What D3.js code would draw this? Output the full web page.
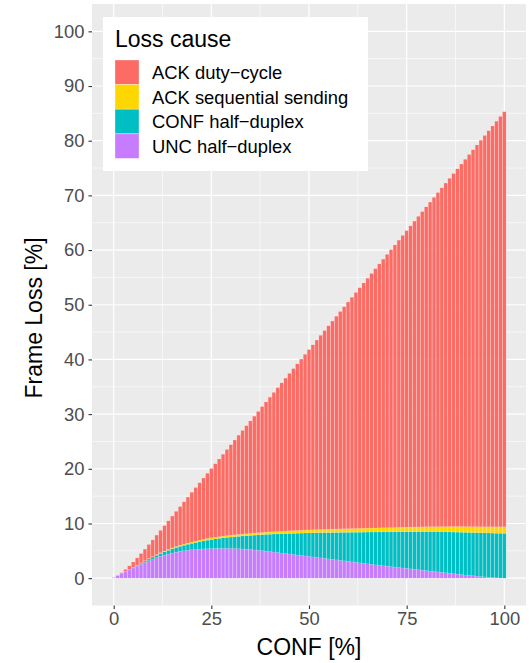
<!DOCTYPE html>
<html>
<head>
<meta charset="utf-8">
<script src="https://cdn.jsdelivr.net/npm/d3@7"></script>
<style>
  body { margin: 0; background: #fff; }
  text { font-family: "Liberation Sans", Arial, Helvetica, sans-serif; }
</style>
</head>
<body>
<script>
// CONF share in %, one bar per step
var conf = d3.range(0, 101);

// loss causes, bottom to top of the stack
var causes = ["UNC half−duplex", "CONF half−duplex", "ACK sequential sending", "ACK duty−cycle"];
var legendOrder = ["ACK duty−cycle", "ACK sequential sending", "CONF half−duplex", "UNC half−duplex"];
var colours = {"ACK duty−cycle": "#FC6C64", "ACK sequential sending": "#FFD700",
               "CONF half−duplex": "#00BFC4", "UNC half−duplex": "#C77CFF"};

var uncHalfDuplex = [
  0.1, 0.45, 0.8, 1.15, 1.5, 1.85, 2.2, 2.55, 2.9, 3.2,
  3.5, 3.75, 4.0, 4.2, 4.4, 4.6, 4.75, 4.9, 5.0, 5.1,
  5.2, 5.25, 5.3, 5.35, 5.38, 5.4, 5.42, 5.43, 5.44, 5.44,
  5.43, 5.41, 5.38, 5.34, 5.29, 5.23, 5.16, 5.09, 5.02, 4.94,
  4.86, 4.78, 4.69, 4.6, 4.51, 4.42, 4.33, 4.24, 4.15, 4.06,
  3.97, 3.88, 3.79, 3.7, 3.61, 3.52, 3.43, 3.34, 3.25, 3.16,
  3.07, 2.98, 2.89, 2.8, 2.71, 2.62, 2.53, 2.44, 2.35, 2.26,
  2.18, 2.1, 2.02, 1.94, 1.86, 1.78, 1.7, 1.62, 1.54, 1.46,
  1.38, 1.3, 1.22, 1.14, 1.06, 0.98, 0.9, 0.82, 0.74, 0.66,
  0.58, 0.5, 0.43, 0.36, 0.29, 0.23, 0.17, 0.12, 0.07, 0.03,
  0.0];

var confHalfDuplex = [
  0, 0, 0.02, 0.05, 0.08, 0.12, 0.16, 0.2, 0.23, 0.3,
  0.36, 0.45, 0.52, 0.62, 0.7, 0.76, 0.85, 0.92, 1.02, 1.1,
  1.17, 1.28, 1.38, 1.47, 1.57, 1.67, 1.76, 1.85, 1.93, 2.01,
  2.09, 2.18, 2.27, 2.37, 2.48, 2.59, 2.71, 2.83, 2.94, 3.06,
  3.18, 3.29, 3.41, 3.53, 3.65, 3.76, 3.87, 3.98, 4.09, 4.2,
  4.31, 4.42, 4.52, 4.62, 4.72, 4.82, 4.92, 5.02, 5.12, 5.22,
  5.32, 5.42, 5.51, 5.61, 5.71, 5.81, 5.91, 6.0, 6.1, 6.19,
  6.28, 6.36, 6.45, 6.53, 6.62, 6.7, 6.79, 6.87, 6.96, 7.04,
  7.12, 7.2, 7.27, 7.34, 7.41, 7.48, 7.55, 7.61, 7.68, 7.74,
  7.8, 7.86, 7.91, 7.96, 8.01, 8.05, 8.09, 8.12, 8.15, 8.18,
  8.2];

var ackSequential = [
  0, 0, 0.01, 0.02, 0.03, 0.04, 0.05, 0.06, 0.07, 0.08,
  0.1, 0.11, 0.12, 0.14, 0.15, 0.17, 0.18, 0.2, 0.21, 0.23,
  0.24, 0.25, 0.27, 0.28, 0.29, 0.3, 0.31, 0.31, 0.32, 0.32,
  0.33, 0.33, 0.34, 0.35, 0.35, 0.36, 0.37, 0.38, 0.39, 0.41,
  0.42, 0.43, 0.44, 0.45, 0.46, 0.47, 0.48, 0.5, 0.51, 0.52,
  0.54, 0.55, 0.56, 0.58, 0.59, 0.6, 0.61, 0.62, 0.63, 0.64,
  0.65, 0.66, 0.67, 0.68, 0.7, 0.71, 0.72, 0.73, 0.74, 0.76,
  0.77, 0.78, 0.79, 0.8, 0.82, 0.83, 0.84, 0.85, 0.86, 0.88,
  0.89, 0.9, 0.92, 0.93, 0.95, 0.96, 0.98, 0.99, 1.01, 1.02,
  1.04, 1.05, 1.07, 1.08, 1.1, 1.11, 1.13, 1.14, 1.16, 1.17,
  1.19];

var ackDutyCycle = [
  0, 0.05, 0.17, 0.38, 0.64, 0.94, 1.29, 1.69, 2.1, 2.57,
  3.04, 3.56, 4.1, 4.65, 5.23, 5.82, 6.44, 7.07, 7.73, 8.4,
  9.09, 9.79, 10.49, 11.21, 11.94, 12.68, 13.43, 14.2, 14.97, 15.76,
  16.55, 17.35, 18.15, 18.95, 19.76, 20.57, 21.38, 22.19, 23.01, 23.82,
  24.64, 25.47, 26.3, 27.13, 27.96, 28.8, 29.64, 30.47, 31.31, 32.15,
  32.98, 33.82, 34.67, 35.51, 36.36, 37.21, 38.06, 38.91, 39.76, 40.61,
  41.46, 42.31, 43.17, 44.02, 44.86, 45.71, 46.56, 47.42, 48.27, 49.12,
  49.97, 50.83, 51.68, 52.54, 53.38, 54.24, 55.09, 55.95, 56.8, 57.65,
  58.51, 59.37, 60.23, 61.1, 61.96, 62.83, 63.69, 64.57, 65.43, 66.31,
  67.18, 68.06, 68.93, 69.81, 70.68, 71.56, 72.43, 73.31, 74.18, 75.05,
  75.91];

var xTicks = [0, 25, 50, 75, 100];
var yTicks = [0, 10, 20, 30, 40, 50, 60, 70, 80, 90, 100];

var width = 532, height = 663;
var panel = {left: 92, right: 526, top: 4, bottom: 605.5};

var rows = conf.map(function(c, i) {
    var r = {conf: c};
    r["UNC half−duplex"] = uncHalfDuplex[i];
    r["CONF half−duplex"] = confHalfDuplex[i];
    r["ACK sequential sending"] = ackSequential[i];
    r["ACK duty−cycle"] = ackDutyCycle[i];
    return r;
});

var x = d3.scaleLinear().domain([-5.55, 105.55]).range([panel.left, panel.right]);
var y = d3.scaleLinear().domain([-5, 105]).range([panel.bottom, panel.top]);

var svg = d3.select("body").append("svg")
    .attr("width", width)
    .attr("height", height);

svg.append("rect")
    .attr("x", panel.left).attr("y", panel.top)
    .attr("width", panel.right - panel.left)
    .attr("height", panel.bottom - panel.top)
    .attr("fill", "#EBEBEB");

// minor grid
var grid = svg.append("g");
[12.5, 37.5, 62.5, 87.5].forEach(function(v) {
    grid.append("line").attr("x1", x(v)).attr("x2", x(v))
        .attr("y1", panel.top).attr("y2", panel.bottom)
        .attr("stroke", "#fff").attr("stroke-width", 0.6);
});
d3.range(5, 101, 10).forEach(function(v) {
    grid.append("line").attr("y1", y(v)).attr("y2", y(v))
        .attr("x1", panel.left).attr("x2", panel.right)
        .attr("stroke", "#fff").attr("stroke-width", 0.6);
});
// major grid
xTicks.forEach(function(v) {
    grid.append("line").attr("x1", x(v)).attr("x2", x(v))
        .attr("y1", panel.top).attr("y2", panel.bottom)
        .attr("stroke", "#fff").attr("stroke-width", 1.2);
});
yTicks.forEach(function(v) {
    grid.append("line").attr("y1", y(v)).attr("y2", y(v))
        .attr("x1", panel.left).attr("x2", panel.right)
        .attr("stroke", "#fff").attr("stroke-width", 1.2);
});

// stacked bars
var stack = d3.stack().keys(causes);
var layers = stack(rows);

svg.append("g").selectAll("g")
    .data(layers)
    .enter().append("g")
    .attr("fill", function(d) { return colours[d.key]; })
    .selectAll("rect")
    .data(function(d) { return d; })
    .enter().append("rect")
    .attr("x", function(d) { return x(d.data.conf - 0.45); })
    .attr("width", x(0.45) - x(-0.45))
    .attr("y", function(d) { return y(d[1]); })
    .attr("height", function(d) { return Math.max(0, y(d[0]) - y(d[1])); })
    .attr("stroke", "#fff")
    .attr("stroke-opacity", 0.25)
    .attr("stroke-width", 0.4);

// axes
var xAxis = d3.axisBottom(x).tickValues(xTicks).tickSize(3.5).tickPadding(3);
var gx = svg.append("g")
    .attr("transform", "translate(0," + panel.bottom + ")")
    .call(xAxis);
gx.select(".domain").remove();
gx.selectAll("line").attr("stroke", "#333").attr("stroke-width", 1.1);
gx.selectAll("text").attr("fill", "#4D4D4D").style("font-size", "18.4px")
    .style("font-family", "Liberation Sans, Arial, sans-serif");

var yAxis = d3.axisLeft(y).tickValues(yTicks).tickSize(3.5).tickPadding(4);
var gy = svg.append("g")
    .attr("transform", "translate(" + panel.left + ",0)")
    .call(yAxis);
gy.select(".domain").remove();
gy.selectAll("line").attr("stroke", "#333").attr("stroke-width", 1.1);
gy.selectAll("text").attr("fill", "#4D4D4D").style("font-size", "18.4px")
    .style("font-family", "Liberation Sans, Arial, sans-serif");

svg.append("text")
    .attr("x", (panel.left + panel.right) / 2)
    .attr("y", 655)
    .attr("text-anchor", "middle")
    .style("font-size", "23px")
    .text("CONF [%]");

svg.append("text")
    .attr("transform", "translate(42,318) rotate(-90)")
    .attr("text-anchor", "middle")
    .style("font-size", "23px")
    .text("Frame Loss [%]");

// legend
var legend = svg.append("g").attr("transform", "translate(103,17)");
legend.append("rect")
    .attr("width", 265).attr("height", 154)
    .attr("fill", "#fff");
legend.append("text")
    .attr("x", 12).attr("y", 30)
    .style("font-size", "23px")
    .text("Loss cause");

var item = legend.selectAll(".item")
    .data(legendOrder)
    .enter().append("g")
    .attr("class", "item")
    .attr("transform", function(d, i) { return "translate(12," + (43 + i * 24.6) + ")"; });

item.append("rect")
    .attr("width", 24).attr("height", 24.6)
    .attr("fill", function(d) { return colours[d]; })
    .attr("stroke", "#fff").attr("stroke-opacity", 0.4).attr("stroke-width", 0.8);

item.append("text")
    .attr("x", 37).attr("y", 12.3)
    .attr("dy", "0.36em")
    .style("font-size", "18.4px")
    .text(function(d) { return d; });
</script>
</body>
</html>
